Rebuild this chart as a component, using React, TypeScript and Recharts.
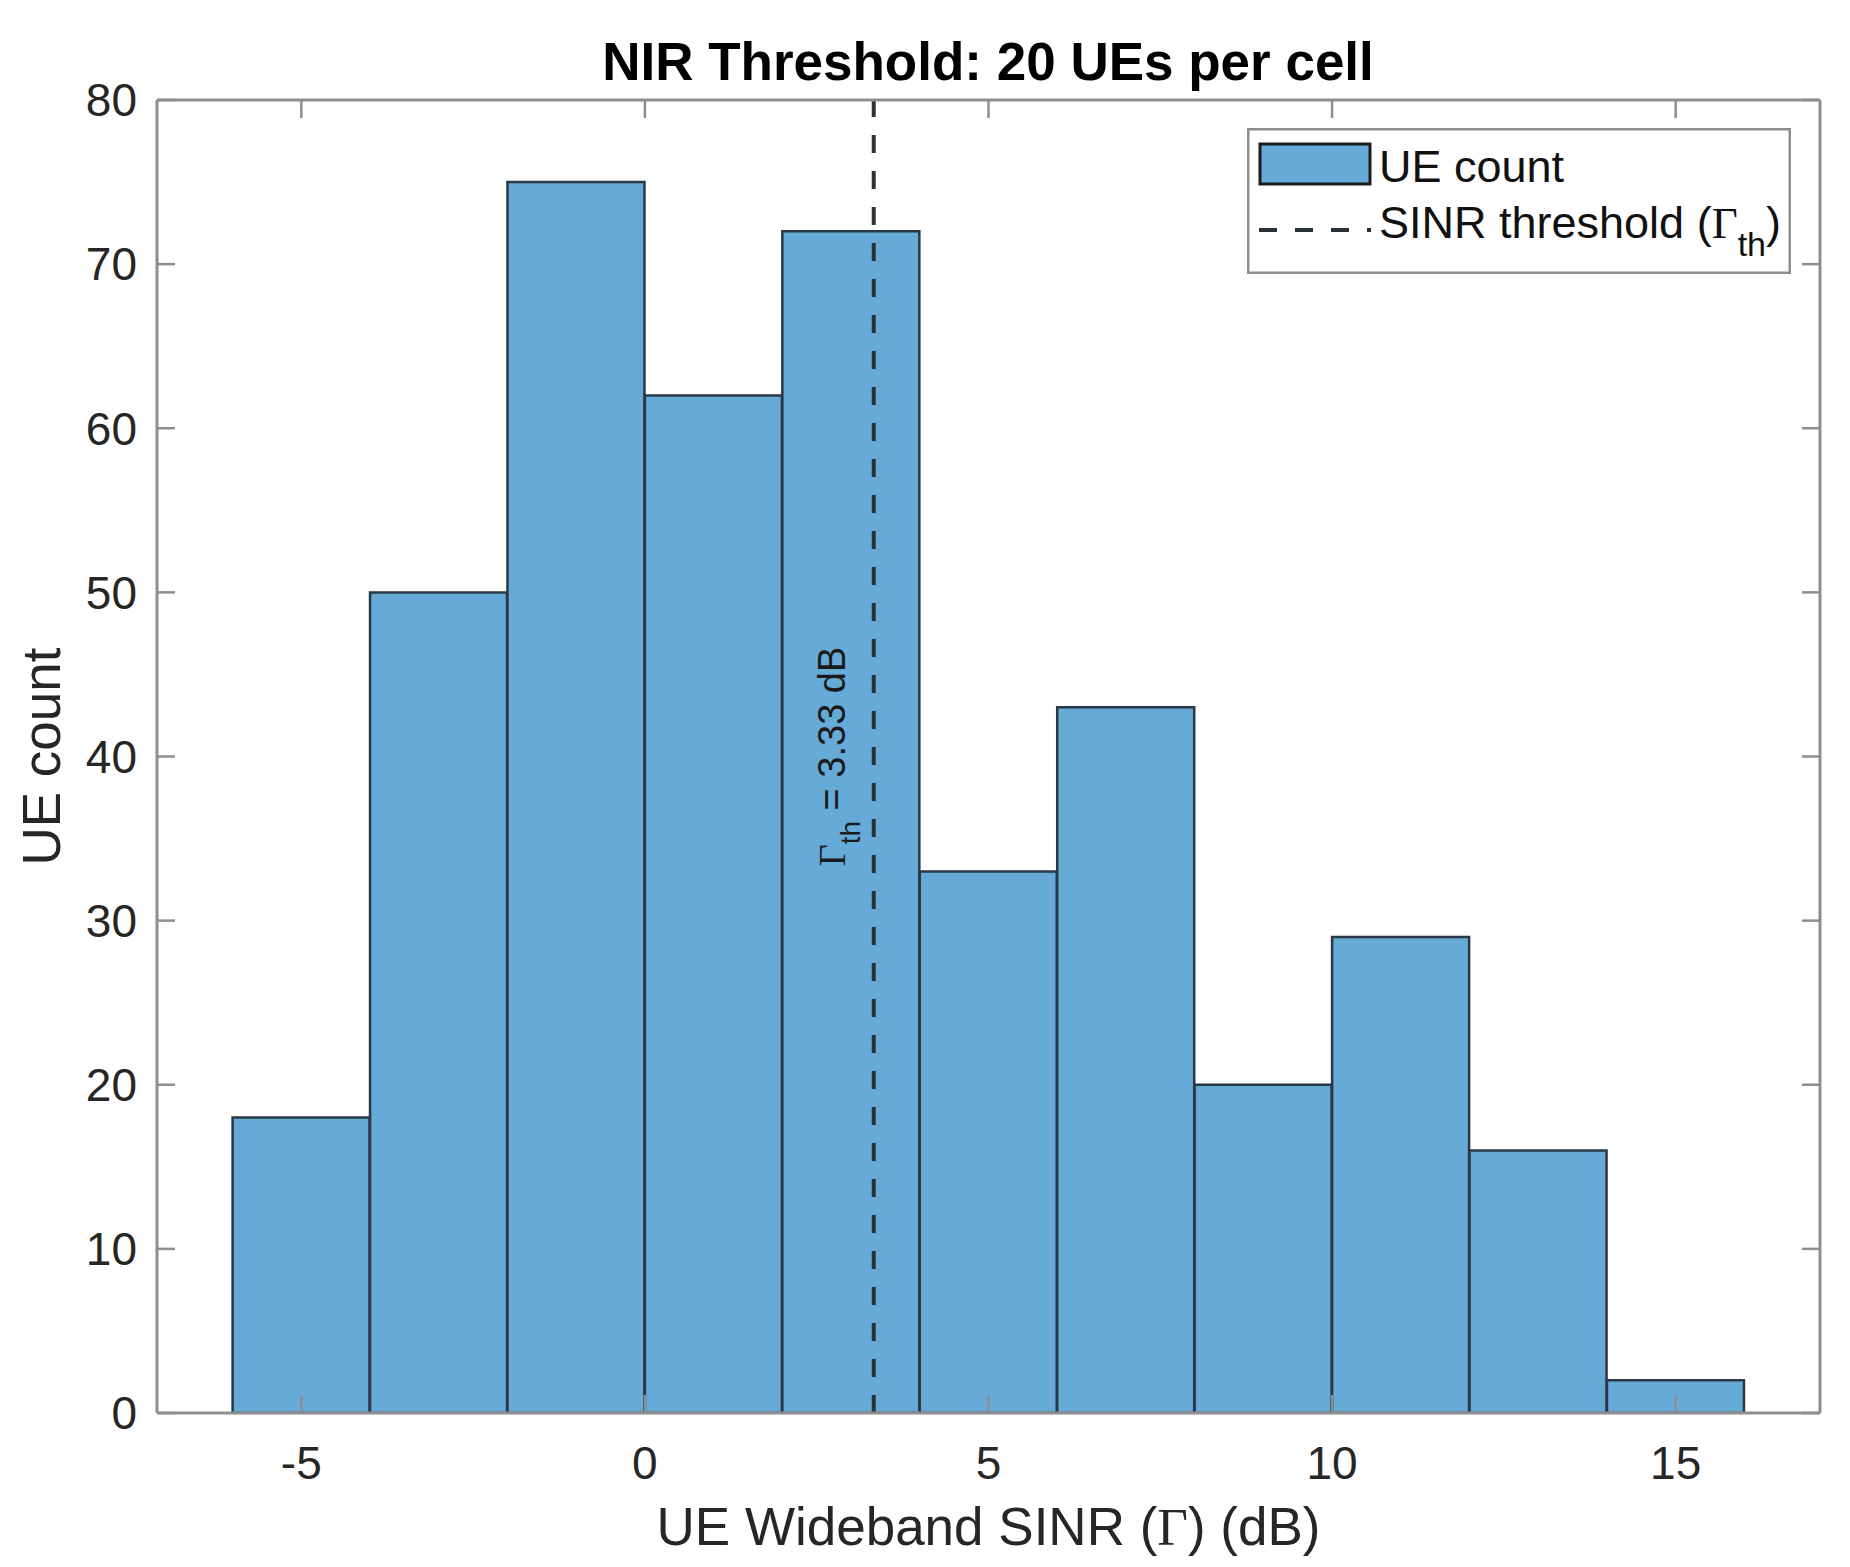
import React from 'react'
import { ComposedChart, Bar, XAxis, YAxis, ReferenceLine, Legend } from 'recharts'

// ─── Data (histogram, 2 dB bins) ─────────────────────────────────────────────
const BIN_CENTERS = [-5, -3, -1, 1, 3, 5, 7, 9, 11, 13, 15]
const UE_COUNTS = [18, 50, 75, 62, 72, 33, 43, 20, 29, 16, 2]
const X_TICKS = [-5, 0, 5, 10, 15]
const Y_TICKS = [0, 10, 20, 30, 40, 50, 60, 70, 80]
const X_DOMAIN = [-7.1, 17.1]
const Y_DOMAIN = [0, 80]
const SINR_THRESHOLD = 3.33

const TITLE = 'NIR Threshold: 20 UEs per cell'
const SERIES_NAME = 'UE count'
const THRESH_NAME = 'SINR threshold ('

// ─── Style tokens ────────────────────────────────────────────────────────────
const BAR_FILL = '#66aad7'
const BAR_EDGE = '#2a3845'
const AXIS = '#8e8e8e'
const TEXT = '#262626'
const DASH = '#2b3238'
const SANS = '"Liberation Sans", Arial, Helvetica, sans-serif'
const SERIF = '"Liberation Serif", "Times New Roman", serif'

const bins = BIN_CENTERS.map((c, i) => ({ sinr: c, count: UE_COUNTS[i] }))

// tick marks only, no text (the labelled axes carry the numbers)
const NoText = () => <g />

function XLabel({ viewBox }: { viewBox?: { x: number; y: number; width: number; height: number } }) {
  if (!viewBox) return null
  const cx = viewBox.x + viewBox.width / 2
  return (
    <text x={cx} y={viewBox.y + 132} textAnchor="middle" fontSize={53} fontFamily={SANS} fill={TEXT}>
      UE Wideband SINR (<tspan fontFamily={SERIF}>Γ</tspan>) (dB)
    </text>
  )
}

function YLabel({ viewBox }: { viewBox?: { x: number; y: number; width: number; height: number } }) {
  if (!viewBox) return null
  const cy = viewBox.y + viewBox.height / 2
  const bx = 60
  return (
    <text x={bx} y={cy} transform={`rotate(-90, ${bx}, ${cy})`} textAnchor="middle" fontSize={53} fontFamily={SANS} fill={TEXT}>
      UE count
    </text>
  )
}

function ThreshLabel({ viewBox }: { viewBox?: { x: number; y: number; width?: number; height?: number } }) {
  if (!viewBox) return null
  const bx = viewBox.x - 32
  const cy = viewBox.height ? viewBox.y + viewBox.height / 2 : 757
  return (
    <text x={bx} y={cy + 3} transform={`rotate(-90, ${bx}, ${cy})`} textAnchor="middle" fontSize={38} fontFamily={SANS} fill="#1a1a1a">
      <tspan fontFamily={SERIF}>Γ</tspan>
      <tspan dy={15} fontSize={28}>th</tspan>
      <tspan dy={-15}>{` = ${SINR_THRESHOLD} dB`}</tspan>
    </text>
  )
}

function LegendBox({ payload }: { payload?: { value: string }[] }) {
  const name = payload?.[0]?.value ?? SERIES_NAME
  return (
    <svg width={544} height={146} style={{ display: 'block' }}>
      <rect x={1.25} y={1.25} width={541.5} height={143.5} fill="#fff" stroke={AXIS} strokeWidth={2.5} />
      <rect x={13} y={16} width={110} height={40} fill={BAR_FILL} stroke="#1c1c1c" strokeWidth={3} />
      <text x={132} y={54} fontSize={45} fontFamily={SANS} fill="#111">{name}</text>
      <line x1={12} x2={124} y1={102} y2={102} stroke={DASH} strokeWidth={4} strokeDasharray="18 18" />
      <text x={132} y={110} fontSize={45} fontFamily={SANS} fill="#111">
        {THRESH_NAME}<tspan fontFamily={SERIF}>Γ</tspan>
        <tspan dy={18} fontSize={34}>th</tspan>
        <tspan dy={-18}>)</tspan>
      </text>
    </svg>
  )
}

export default function App() {
  const tick = { fill: TEXT, fontSize: 46, fontFamily: SANS }
  const axisLine = { stroke: AXIS, strokeWidth: 3 }
  const tickLine = { stroke: AXIS, strokeWidth: 2.5 }
  return (
    <div style={{ position: 'absolute', left: 0, top: 0, width: 1850, height: 1567, background: '#fff' }}>
      <div style={{
        position: 'absolute', left: 0, top: 35, width: 1976, textAlign: 'center',
        fontFamily: SANS, fontWeight: 700, fontSize: 53, lineHeight: 1, color: '#000', zIndex: 2,
      }}>
        {TITLE}
      </div>
      <ComposedChart
        width={1850} height={1567} data={bins}
        margin={{ top: 100, right: 30, bottom: 54, left: 57 }}
        barCategoryGap={0} barGap={0}
      >
        {/* labelled axes (bottom / left) */}
        <XAxis
          dataKey="sinr" type="number" domain={X_DOMAIN} ticks={X_TICKS} allowDataOverflow
          height={100} tickSize={0} tickMargin={33} tick={tick}
          axisLine={axisLine} tickLine={false} zIndex={1000}
          label={<XLabel />}
        />
        <YAxis
          type="number" domain={Y_DOMAIN} ticks={Y_TICKS} allowDataOverflow
          width={100} tickSize={0} tickMargin={20} tick={tick}
          axisLine={axisLine} tickLine={false} zIndex={1000}
          label={<YLabel />}
        />
        {/* inward tick marks on all four sides (box on), drawn above the bars */}
        <XAxis
          xAxisId="xb" orientation="bottom" mirror dataKey="sinr" type="number" domain={X_DOMAIN} ticks={X_TICKS} allowDataOverflow
          height={30} tickSize={18} tick={NoText} axisLine={false} tickLine={tickLine} zIndex={1000}
        />
        <XAxis
          xAxisId="xt" orientation="top" mirror dataKey="sinr" type="number" domain={X_DOMAIN} ticks={X_TICKS} allowDataOverflow
          height={30} tickSize={18} tick={NoText} axisLine={axisLine} tickLine={tickLine} zIndex={1000}
        />
        <YAxis
          yAxisId="yl" orientation="left" mirror type="number" domain={Y_DOMAIN} ticks={Y_TICKS} allowDataOverflow
          width={30} tickSize={18} tick={NoText} axisLine={false} tickLine={tickLine} zIndex={1000}
        />
        <YAxis
          yAxisId="yr" orientation="right" mirror type="number" domain={Y_DOMAIN} ticks={Y_TICKS} allowDataOverflow
          width={30} tickSize={18} tick={NoText} axisLine={axisLine} tickLine={tickLine} zIndex={1000}
        />
        <Bar dataKey="count" name={SERIES_NAME} fill={BAR_FILL} stroke={BAR_EDGE} strokeWidth={2.5} isAnimationActive={false} />
        <ReferenceLine
          x={SINR_THRESHOLD} stroke={DASH} strokeWidth={4} strokeDasharray="18 18"
          label={<ThreshLabel />}
        />
        <Legend
          content={<LegendBox />} layout="horizontal" verticalAlign="middle" align="center"
          wrapperStyle={{ left: 1247, top: 128, width: 544, height: 146 }}
        />
      </ComposedChart>
    </div>
  )
}
